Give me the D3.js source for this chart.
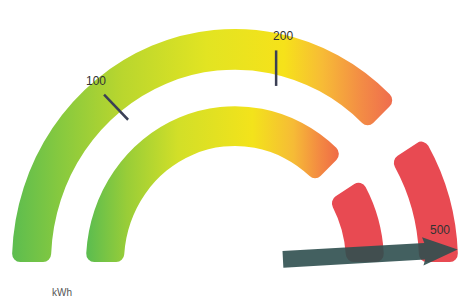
<!DOCTYPE html>
<html>
<head>
<meta charset="utf-8">
<script src="https://cdn.jsdelivr.net/npm/d3@7/dist/d3.min.js"></script>
<style>
  body { margin: 0; background: #fff; }
  .tick-label { font-family: "Liberation Sans", Arial, sans-serif; font-size: 12px; fill: #333; }
  .unit { font-family: "Liberation Sans", Arial, sans-serif; font-size: 10px; fill: #555; }
</style>
</head>
<body>
<div id="chart"></div>
<script>
// gauge data
const scaleDomain = [0, 200, 500];
const bands = [[0, 330], [376, 500]];
const tickValues = [100, 200, 500];
const tickLabels = ['100', '200', '500'];
const needleValue = 488;
const unitLabel = 'kWh';

const width = 461, height = 298;
const cx = 235, cy = 262;
const squash = 1.045; // picture is a touch taller than wide

const svg = d3.select('#chart').append('svg')
  .attr('width', width)
  .attr('height', height);

/* angle scale in degrees, 0 = straight up */
const angle = d3.scaleLinear().domain(scaleDomain).range([-90, 12.5, 90]);
// tick marks lean a bit more than the radius does
const tickLean = d3.scaleLinear().domain([0, 400]).range([-90, 90]).clamp(true);
const rad = (deg) => deg * Math.PI / 180;
const polar = (deg, r) => [r * Math.sin(rad(deg)), -r * Math.cos(rad(deg))];

const defs = svg.append('defs');
function addGradient(id, x1, x2, stops) {
  const g = defs.append('linearGradient')
    .attr('id', id)
    .attr('gradientUnits', 'userSpaceOnUse')
    .attr('x1', x1 - cx).attr('x2', x2 - cx).attr('y1', 0).attr('y2', 0);
  g.selectAll('stop').data(stops).join('stop')
    .attr('offset', (d) => d[0])
    .attr('stop-color', (d) => d[1]);
}
addGradient('grad-outer', 13, 400, [
  [0, '#5dbd4f'], [0.12, '#86c93f'], [0.28, '#b9d62e'], [0.5, '#e2e422'],
  [0.7, '#f6e21a'], [0.8, '#f7bb36'], [0.9, '#f38c45'], [1, '#ee6550']]);
addGradient('grad-inner', 88, 345, [
  [0, '#5dbd4f'], [0.15, '#98cd38'], [0.35, '#d2df28'], [0.64, '#f3e31b'],
  [0.8, '#f6bb36'], [0.9, '#f38a42'], [1, '#ee6148']]);

const gauge = svg.append('g')
  .attr('transform', `translate(${cx},${cy}) scale(1,${squash})`);

const rings = [
  { inner: 184, outer: 223, grad: 'url(#grad-outer)' },
  { inner: 111, outer: 149, grad: 'url(#grad-inner)' },
];

rings.forEach((ring) => {
  const arc = d3.arc()
    .innerRadius(ring.inner)
    .outerRadius(ring.outer)
    .cornerRadius(8);
  gauge.append('g').selectAll('path')
    .data(bands)
    .join('path')
    .attr('d', (d) => arc({ startAngle: rad(angle(d[0])), endAngle: rad(angle(d[1])) }))
    .attr('fill', (d, i) => (i === 0 ? ring.grad : '#e84a52'));
});

/* tick marks */
const maxValue = scaleDomain[scaleDomain.length - 1];
const tickLen = 34;
const tickMid = (v) => polar(angle(v), 190);
const tickDir = (v) => polar(tickLean(v), 1);
gauge.selectAll('.tick-line')
  .data(tickValues.filter((v) => v < maxValue))
  .join('line')
  .attr('class', 'tick-line')
  .attr('x1', (d) => tickMid(d)[0] - tickDir(d)[0] * tickLen / 2)
  .attr('y1', (d) => tickMid(d)[1] - tickDir(d)[1] * tickLen / 2)
  .attr('x2', (d) => tickMid(d)[0] + tickDir(d)[0] * tickLen / 2)
  .attr('y2', (d) => tickMid(d)[1] + tickDir(d)[1] * tickLen / 2)
  .attr('stroke', '#3a3f55')
  .attr('stroke-width', 2.5);

/* needle */
gauge.append('path')
  .attr('transform', `rotate(${angle(needleValue) - 90})`)
  .attr('d', 'M48,-8 L190,-8 L188,-13.5 L223,0 L188,13.5 L190,8 L48,8 Z')
  .attr('fill', '#2f4f4f')
  .attr('fill-opacity', 0.9);

/* tick labels, kept above the needle near the end of the scale */
const labelPos = (v) => {
  const p = polar(Math.min(angle(v), 82), 222);
  return [cx + p[0], cy + p[1] * squash];
};
svg.selectAll('.tick-label')
  .data(tickValues)
  .join('text')
  .attr('class', 'tick-label')
  .attr('x', (d) => Math.min(labelPos(d)[0], width - 21))
  .attr('y', (d) => labelPos(d)[1])
  .attr('dy', '0.35em')
  .attr('text-anchor', 'middle')
  .text((d, i) => tickLabels[i]);

svg.append('text')
  .attr('class', 'unit')
  .attr('x', 62)
  .attr('y', 296)
  .attr('text-anchor', 'middle')
  .text(unitLabel);
</script>
</body>
</html>
